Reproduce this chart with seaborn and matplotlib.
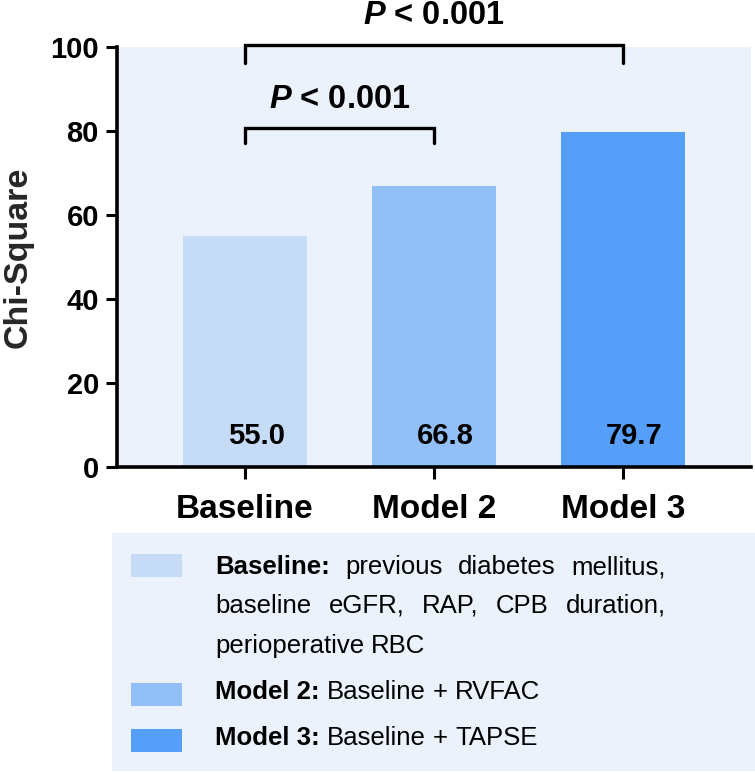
import matplotlib
matplotlib.use("Agg")
import matplotlib.pyplot as plt
import seaborn as sns
import pandas as pd
from matplotlib.patches import Rectangle

# data
models = ["Baseline", "Model 2", "Model 3"]
chi_square = [55.0, 66.8, 79.7]
bar_colors = ["#C6DCF6", "#93BFF7", "#559FF8"]
comparisons = [("Baseline", "Model 2", "P < 0.001"),
               ("Baseline", "Model 3", "P < 0.001")]
legend_rows = [
    ("Baseline:", ["previous diabetes mellitus,",
                   "baseline eGFR, RAP, CPB duration,",
                   "perioperative RBC"]),
    ("Model 2:", ["Baseline + RVFAC"]),
    ("Model 3:", ["Baseline + TAPSE"]),
]

df = pd.DataFrame({"model": models, "chi": chi_square})

sns.set_theme(style="white")
plt.rcParams["font.family"] = ["Liberation Sans", "DejaVu Sans"]
plt.rcParams["mathtext.fontset"] = "custom"
plt.rcParams["mathtext.bfit"] = "Liberation Sans:italic:bold"

bg = "#EBF2FC"
W, H = 755, 774
fig = plt.figure(figsize=(W / 100, H / 100), dpi=100)
fig.patch.set_facecolor("white")
ax = fig.add_axes([117 / W, 1 - 467 / H, (751 - 117) / W, (467 - 47) / H])
ax.set_facecolor(bg)

sns.barplot(data=df, x="model", y="chi", hue="model", palette=bar_colors,
            width=0.66, legend=False, ax=ax, saturation=1, linewidth=0)

ax.set_xlim(-0.677, 2.677)
ax.set_ylim(0, 100)
ax.set_yticks([0, 20, 40, 60, 80, 100])
for s in ["top", "right"]:
    ax.spines[s].set_visible(False)
for s in ["left", "bottom"]:
    ax.spines[s].set_linewidth(2.6)
    ax.spines[s].set_color("black")
ax.tick_params(axis="y", length=8, width=2.2, pad=5, labelsize=21,
               left=True, colors="black")
ax.tick_params(axis="x", length=8.5, width=2.2, pad=11, labelsize=24,
               bottom=True, colors="black")
for lab in ax.get_yticklabels() + ax.get_xticklabels():
    lab.set_fontweight("bold")
ax.set_xlabel("")
ax.set_ylabel("Chi-Square", fontsize=24.5, fontweight="bold", labelpad=12)

# value labels near the bottom of each bar
for i, v in enumerate(chi_square):
    ax.text(i + 0.06, 7.4, f"{v:.1f}", ha="center", va="center",
            fontsize=21, fontweight="bold", color="black")

# significance brackets
bracket_levels = [(80.7, 77.1, 87.4), (100.5, 96.2, 107.4)]
for (a, b, label), (top, leg, ty) in zip(comparisons, bracket_levels):
    x1, x2 = models.index(a), models.index(b)
    ax.plot([x1, x1, x2, x2], [leg, top, top, leg], color="black", lw=2.4,
            clip_on=False, solid_joinstyle="miter")
    txt = r"$\mathbfit{P}$" + label[1:]
    ax.text((x1 + x2) / 2, ty, txt, ha="center", va="center",
            fontsize=23.5, fontweight="bold", color="black", clip_on=False)

# legend box below the chart
fig.patches.append(Rectangle((112 / W, 1 - 771 / H), (W - 112) / W,
                             (771 - 533) / H, transform=fig.transFigure,
                             facecolor=bg, edgecolor="none", zorder=0))
row_y = [[567, 606, 646], [692], [738]]
patch_y = [565, 694, 740.5]
renderer = fig.canvas.get_renderer()
tx0, tx1 = 215, 666
fs = 18.5


def put(x, y, s, weight="normal"):
    return fig.text(x / W, 1 - y / H, s, ha="left", va="center",
                    fontsize=fs, fontweight=weight, color="black")


def width_px(t):
    return t.get_window_extent(renderer).width


probe1, probe2 = put(300, 300, "a a"), put(300, 300, "aa")
space = width_px(probe1) - width_px(probe2)
probe1.remove()
probe2.remove()

for (head, lines), ys, py, col in zip(legend_rows, row_y, patch_y, bar_colors):
    fig.patches.append(Rectangle((131 / W, 1 - (py + 11.5) / H), 51 / W,
                                 23 / H, transform=fig.transFigure,
                                 facecolor=col, edgecolor="none", zorder=1))
    for li, (line, y) in enumerate(zip(lines, ys)):
        items = []
        if li == 0:
            items.append(put(tx0, y, head, "bold"))
        items += [put(tx0, y, w_) for w_ in line.split(" ")]
        widths = [width_px(t) for t in items]
        if len(lines) > 1 and li < len(lines) - 1:
            gap = (tx1 - tx0 - sum(widths)) / (len(items) - 1)
        else:
            gap = space
        x = tx0
        for t, w_ in zip(items, widths):
            t.set_x(x / W)
            x += w_ + gap

fig.savefig("out.png", dpi=100, facecolor="white")
